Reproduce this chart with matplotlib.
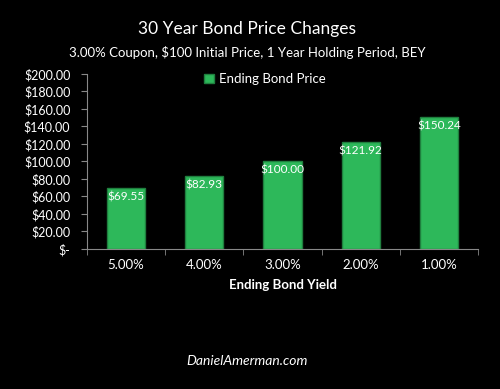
import matplotlib
matplotlib.use("Agg")
import matplotlib.pyplot as plt
import numpy as np

# ---- chart data ----
yields = ["5.00%", "4.00%", "3.00%", "2.00%", "1.00%"]
prices = [69.55, 82.93, 100.00, 121.92, 150.24]
y_ticks = [0, 20, 40, 60, 80, 100, 120, 140, 160, 180, 200]
y_tick_labels = ["$-", "$20.00", "$40.00", "$60.00", "$80.00", "$100.00",
                 "$120.00", "$140.00", "$160.00", "$180.00", "$200.00"]

plt.rcParams['font.family'] = ['Lato', 'DejaVu Sans']

fig = plt.figure(figsize=(5, 3.89), dpi=100, facecolor="black")
ax = fig.add_axes([0.174, 0.360, 0.782, 0.450], facecolor="black")

x = np.arange(len(yields))
bars = ax.bar(x, prices, width=0.49, color="#2db85a", edgecolor="#1f7f3e",
              linewidth=1.0, label="Ending Bond Price", zorder=2)

# value labels inside top of bars
for xi, p in zip(x, prices):
    ax.text(xi, p - 4, "${:,.2f}".format(p), ha="center", va="top",
            color="white", fontsize=8.5)

ax.set_xlim(-0.5, len(yields) - 0.5)
ax.set_ylim(0, 200)
ax.set_yticks(y_ticks)
ax.set_yticklabels(y_tick_labels)
ax.set_xticks(x)
ax.set_xticklabels(yields)
ax.set_xticks(np.arange(-0.5, len(yields), 1.0), minor=True)

ax.tick_params(axis="y", colors="#888888", labelcolor="white", labelsize=9,
               length=4, direction="out", pad=8)
ax.tick_params(axis="x", which="major", length=0, labelcolor="white",
               labelsize=9.5, pad=7)
ax.tick_params(axis="x", which="minor", colors="#888888", length=4)

for s in ["top", "right"]:
    ax.spines[s].set_visible(False)
ax.spines["left"].set_color("#888888")
ax.spines["bottom"].set_color("#888888")

ax.set_xlabel("Ending Bond Yield", color="white", fontsize=9.5,
              fontweight="bold", labelpad=6)

leg = ax.legend(loc="center", bbox_to_anchor=(0.455, 0.97), frameon=False,
                fontsize=9.5, handlelength=0.7, handleheight=0.7,
                handletextpad=0.4)
for t in leg.get_texts():
    t.set_color("white")

fig.text(0.494, 0.925, "30 Year Bond Price Changes", ha="center", va="center",
         color="white", fontsize=12.5)
fig.text(0.494, 0.866, "3.00% Coupon, $100 Initial Price, 1 Year Holding Period, BEY",
         ha="center", va="center", color="white", fontsize=9.5)
fig.text(0.494, 0.072, "DanielAmerman.com", ha="center", va="center",
         color="white", fontsize=10, style="italic")

fig.savefig("out.png", dpi=100, facecolor="black")
